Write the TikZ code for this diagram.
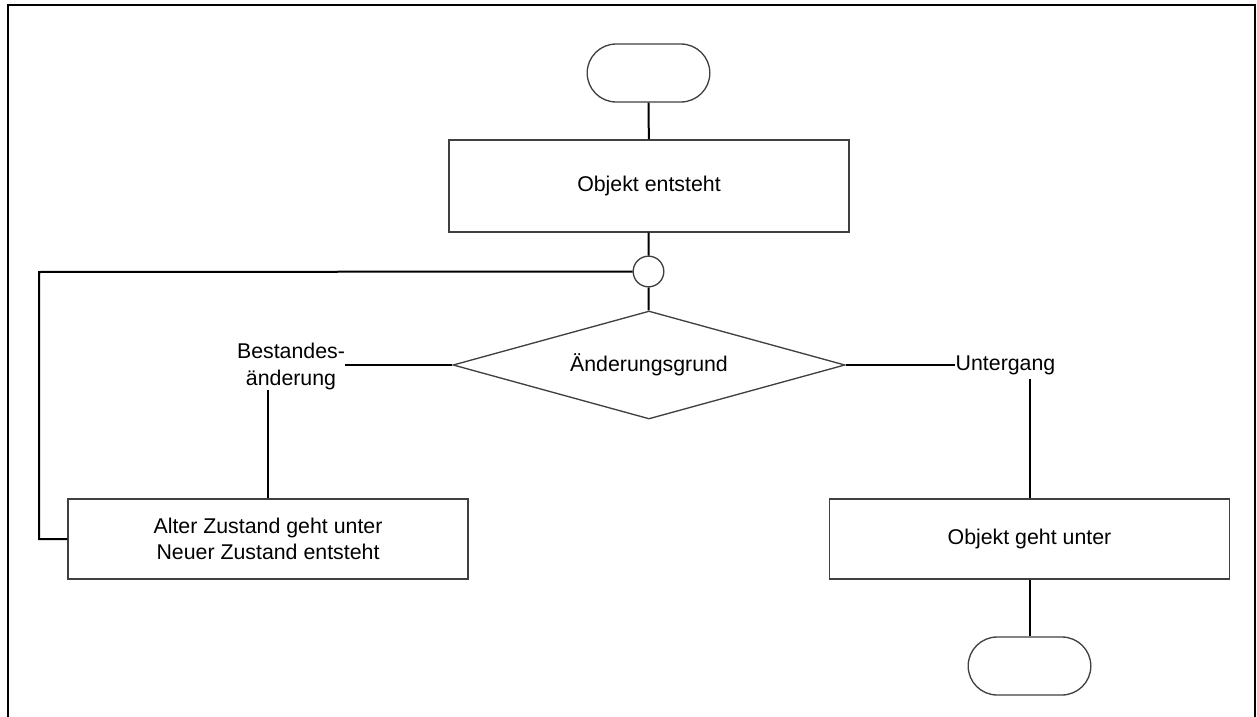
\documentclass[tikz,border=0pt]{standalone}
\usepackage{fontspec}
\setmainfont{Liberation Sans}
\usepackage{tikz}
\usetikzlibrary{positioning,calc,shapes.geometric,shapes.misc}
\tikzset{%
	terminal/.style = {draw=black!75, line width=1pt, rounded rectangle, minimum width=92pt, minimum height=43.5pt, inner sep=0pt},
	process/.style  = {draw=black!75, line width=1pt, rectangle, minimum width=300pt, minimum height=60pt, text centered, align=center, font=\fontsize{16}{19}\selectfont},
	decision/.style = {draw=black!75, line width=1pt, diamond, aspect=3.63, minimum width=294pt, minimum height=81pt, inner sep=0pt, text centered},
	merge/.style    = {draw=black!75, line width=1pt, circle, minimum size=23pt, inner sep=0pt},
	branch/.style   = {inner sep=0pt, align=center, font=\fontsize{16}{20}\selectfont},
	line/.style     = {line width=1.5pt, black},
	frame/.style    = {line width=1.8pt, black},
}

\begin{document}
\begin{tikzpicture}[x=0.75pt,y=-0.75pt]
	\useasboundingbox (0,0) rectangle (1257,717);
	\draw[frame] (8,717) -- (8,5) -- (1255,5) -- (1255,717);  % page frame
	\node[terminal] (start) at (648.5,73) {};
	\node[process, minimum height=69pt] (entsteht) at (649,186) {Objekt entsteht};
	\node[merge] (join) at (648.5,271.5) {};
	\node[decision, font=\fontsize{16}{19}\selectfont] (grund) at (649,365) {Änderungsgrund};
	\node[branch] (bestand) at (291,366.5) {Bestandes-\\änderung};
	\node[branch] (untergang) at (1005.5,365) {Untergang};
	\node[process] (altneu) at (268,539) {Alter Zustand geht unter\\Neuer Zustand entsteht};
	\node[process] (geht) at (1029.5,539) {Objekt geht unter};
	\node[terminal] (ende) at (1029.5,666) {};
	\coordinate (back) at (39,272); % return line
	\draw[line] (start) -- (entsteht);
	\draw[line] (entsteht) -- (join);
	\draw[line] (join) -- (grund);
	\draw[line] (grund.west) -- (grund.west -| bestand.east);
	\draw[line] (bestand.south -| altneu.north) -- (altneu.north);
	\draw[line] (altneu.west) -| (back) -- (join.west);
	\draw[line] (grund.east) -- (untergang.west);
	\draw[line] ([yshift=-3pt]untergang.south -| geht.north) -- (geht.north);
	\draw[line] (geht) -- (ende);
\end{tikzpicture}
\end{document}
